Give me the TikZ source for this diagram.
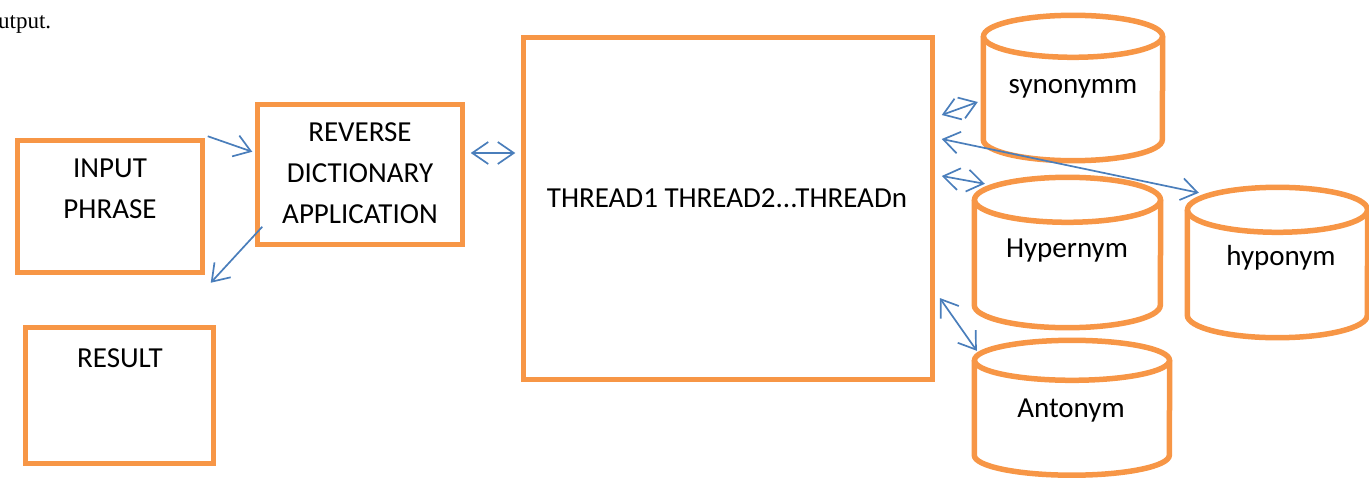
\documentclass[tikz,border=0pt]{standalone}
\usepackage{fontspec}
\setmainfont{Carlito}
\newfontfamily\leadserif{Liberation Serif}
\usetikzlibrary{arrows.meta,calc}

\definecolor{boxorange}{HTML}{F79646}
\definecolor{linkblue}{HTML}{4A7EBB}

\begin{document}
\begin{tikzpicture}[
    x=1pt, y=-1pt,
    font={\fontsize{29}{41}\selectfont},
    box/.style={draw=boxorange, line width=5.5pt, inner sep=0pt},
    db/.style={inner sep=0pt},
    dbline/.style={draw=boxorange, line width=5.5pt},
    link/.style={draw=linkblue, line width=1.7pt, -{Straight Barb[length=16pt,width=22pt]}},
    both/.style={link, {Straight Barb[length=16pt,width=22pt]}-{Straight Barb[length=16pt,width=22pt]}}
]

    \useasboundingbox (0, 0) rectangle (1369, 479);

    % Leftover text from the page above
    \node[font={\leadserif\fontsize{23}{28}\selectfont}, anchor=base west, inner sep=0pt] (lead) at (-2, 28) {utput.};

    % Boxes
    \node[box, minimum width=185pt, minimum height=132pt] (input) at (110, 206.5) {};
    \node[box, minimum width=188pt, minimum height=136pt] (result) at (119.5, 395.5) {};
    \node[box, minimum width=205pt, minimum height=140pt] (reverse) at (360, 174.5) {};
    \node[box, minimum width=409pt, minimum height=342pt] (thread) at (728, 208.5) {};

    % Box labels
    \node[align=center] (inputtext) at (110, 189) {INPUT\\PHRASE};
    \node[anchor=base] (resulttext) at (120, 367) {RESULT};
    \node[align=center] (reversetext) at (360, 173) {REVERSE\\DICTIONARY\\APPLICATION};
    \node[anchor=base] (threadtext) at (727, 207) {THREAD1 THREAD2...THREADn};

    % Databases (frames)
    \node[db, minimum width=179pt, minimum height=145pt] (syn) at (1073, 88) {};
    \node[db, minimum width=186pt, minimum height=150pt] (hyper) at (1067.5, 252.5) {};
    \node[db, minimum width=180pt, minimum height=150pt] (hypo) at (1277.5, 262.5) {};
    \node[db, minimum width=195pt, minimum height=134.5pt] (anto) at (1072, 407.75) {};

    % Databases (cylinders)
    \draw[dbline] ($(syn.north)+(0,21)$) ellipse [x radius=89.5pt, y radius=21pt];
    \draw[dbline] ($(syn.north west)+(0,21)$) -- ($(syn.south west)+(0,-21)$)
        arc[start angle=180, end angle=360, x radius=89.5pt, y radius=21pt]
        -- ($(syn.north east)+(0,21)$);

    \draw[dbline] ($(hyper.north)+(0,22.5)$) ellipse [x radius=93pt, y radius=22.5pt];
    \draw[dbline] ($(hyper.north west)+(0,22.5)$) -- ($(hyper.south west)+(0,-22.5)$)
        arc[start angle=180, end angle=360, x radius=93pt, y radius=22.5pt]
        -- ($(hyper.north east)+(0,22.5)$);

    \draw[dbline] ($(hypo.north)+(0,22.5)$) ellipse [x radius=90pt, y radius=22.5pt];
    \draw[dbline] ($(hypo.north west)+(0,22.5)$) -- ($(hypo.south west)+(0,-22.5)$)
        arc[start angle=180, end angle=360, x radius=90pt, y radius=22.5pt]
        -- ($(hypo.north east)+(0,22.5)$);

    \draw[dbline] ($(anto.north)+(0,20)$) ellipse [x radius=97.5pt, y radius=20pt];
    \draw[dbline] ($(anto.north west)+(0,20)$) -- ($(anto.south west)+(0,-20)$)
        arc[start angle=180, end angle=360, x radius=97.5pt, y radius=20pt]
        -- ($(anto.north east)+(0,20)$);

    % Database labels
    \node[anchor=base] (syntext) at (1073, 93) {synonymm};
    \node[anchor=base] (hypertext) at (1067, 257) {Hypernym};
    \node[anchor=base] (hypotext) at (1281, 265) {hyponym};
    \node[anchor=base] (antotext) at (1071, 417) {Antonym};

    % Links
    \draw[link] ($(input.north east)+(2.5,-1.5)$) -- ($(reverse.north west)+(-2.5,50)$);
    \draw[link] ($(reverse.south west)+(7.5,-20.5)$) -- ($(input.south east)+(5.5,7.5)$);
    \draw[both] ($(reverse.east)+(5.5,-21.5)$) -- ($(thread.west)+(-5.5,-55.5)$);
    \draw[both] ($(thread.east)+(6.5,-93.5)$) -- ($(syn.west)+(-5.5,14)$);
    \draw[both] ($(thread.east)+(6.5,-69.5)$) -- ($(hypo.north west)+(11.5,5.5)$);
    \draw[both] ($(thread.east)+(6.5,-32.5)$) -- ($(hyper.north west)+(10.5,6.5)$);
    \draw[both] ($(thread.east)+(4.5,89.5)$) -- ($(anto.north west)+(2.5,10.5)$);

\end{tikzpicture}
\end{document}
